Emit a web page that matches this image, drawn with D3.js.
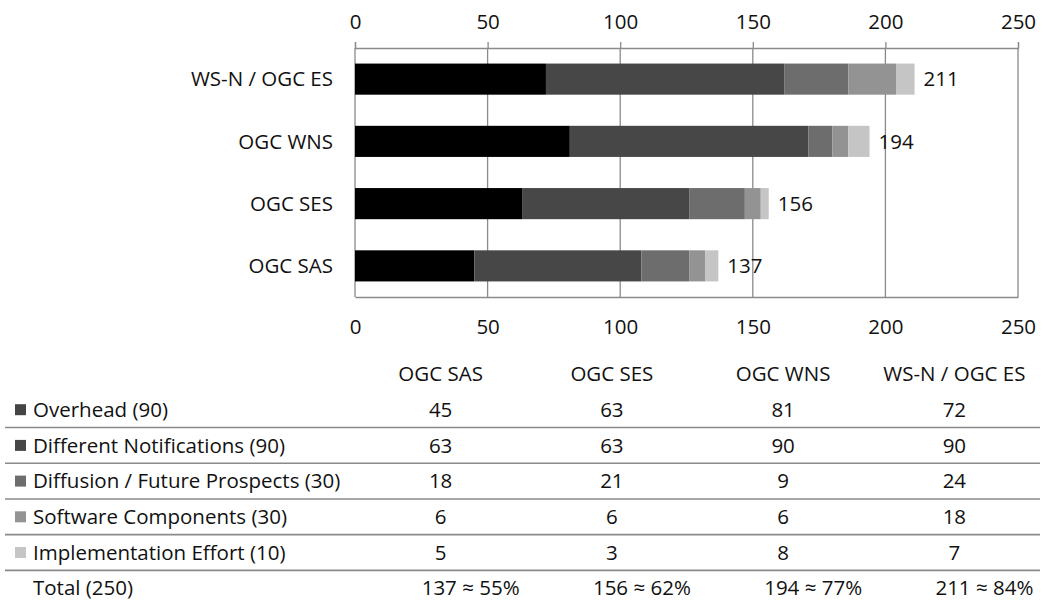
<!DOCTYPE html>
<html>
<head>
<meta charset="utf-8">
<script src="https://cdn.jsdelivr.net/npm/d3@7"></script>
<style>
  html, body { margin: 0; padding: 0; background: #fff; }
  svg text { font-family: "Open Sans", Lato, sans-serif; fill: #111; }
</style>
</head>
<body>
<svg id="chart" width="1043" height="605"></svg>
<script>
// Services in table column order
const services = ["OGC SAS", "OGC SES", "OGC WNS", "WS-N / OGC ES"];
// Bar order top to bottom
const barOrder = ["WS-N / OGC ES", "OGC WNS", "OGC SES", "OGC SAS"];

// Criteria (with their maximum points)
const criteria = [
  "Overhead (90)",
  "Different Notifications (90)",
  "Diffusion / Future Prospects (30)",
  "Software Components (30)",
  "Implementation Effort (10)"
];

// Scores per service, one array per criterion (same order as services)
const overhead       = [45, 63, 81, 72];
const notifications  = [63, 63, 90, 90];
const diffusion      = [18, 21, 9, 24];
const software       = [6, 6, 6, 18];
const implementation = [5, 3, 8, 7];

const totals      = [137, 156, 194, 211];
const totalLabels = ["137 ≈ 55%", "156 ≈ 62%", "194 ≈ 77%", "211 ≈ 84%"];
const totalRowLabel = "Total (250)";

const xTicks = [0, 50, 100, 150, 200, 250];

const barColors    = ["#000000", "#474747", "#6d6d6d", "#939393", "#c5c5c5"];
const swatchColors = ["#444444", "#474747", "#6d6d6d", "#939393", "#c5c5c5"];

const series = [overhead, notifications, diffusion, software, implementation];

const FS = 20.5;

// Build rows for stacking
const rows = services.map((s, i) => {
  const r = { service: s, total: totals[i] };
  criteria.forEach((c, k) => { r[c] = series[k][i]; });
  return r;
});

const svg = d3.select("#chart");

const x = d3.scaleLinear().domain([0, 250]).range([355, 1018]);
const y = d3.scaleBand().domain(barOrder).range([48, 297]).paddingInner(0.5).paddingOuter(0.25);

// Gridlines
svg.append("g")
  .selectAll("line")
  .data(xTicks)
  .join("line")
  .attr("x1", d => x(d)).attr("x2", d => x(d))
  .attr("y1", 48).attr("y2", 297)
  .attr("stroke", "#8a8a8a").attr("stroke-width", 1.3);

// Top axis
const topAxis = svg.append("g")
  .attr("transform", "translate(0,48)")
  .call(d3.axisTop(x).tickValues(xTicks).tickSize(6).tickPadding(13));
// Bottom axis
const bottomAxis = svg.append("g")
  .attr("transform", "translate(0,297)")
  .call(d3.axisBottom(x).tickValues(xTicks).tickSize(0).tickPadding(22));

[topAxis, bottomAxis].forEach(g => {
  g.select(".domain").attr("stroke", "#8a8a8a").attr("stroke-width", 1.3);
  g.selectAll(".tick line").attr("stroke", "#8a8a8a").attr("stroke-width", 1.3);
  g.selectAll(".tick text").attr("font-size", FS).attr("fill", "#111")
    .style("font-family", "'Open Sans', sans-serif");
});

// Stacked bars
const stack = d3.stack().keys(criteria);
const stacked = stack(rows);

svg.append("g")
  .selectAll("g")
  .data(stacked)
  .join("g")
  .attr("fill", (d, i) => barColors[i])
  .selectAll("rect")
  .data(d => d)
  .join("rect")
  .attr("x", d => x(d[0]))
  .attr("width", d => x(d[1]) - x(d[0]))
  .attr("y", d => y(d.data.service))
  .attr("height", y.bandwidth());

// Total labels at the bar ends
svg.append("g")
  .selectAll("text")
  .data(rows)
  .join("text")
  .attr("x", d => x(d.total) + 9)
  .attr("y", d => y(d.service) + y.bandwidth() / 2)
  .attr("dy", "0.35em")
  .attr("font-size", FS)
  .text(d => d.total);

// Category labels
svg.append("g")
  .selectAll("text")
  .data(barOrder)
  .join("text")
  .attr("x", 333)
  .attr("y", d => y(d) + y.bandwidth() / 2)
  .attr("dy", "0.35em")
  .attr("text-anchor", "end")
  .attr("font-size", FS)
  .text(d => d);

// Data table
const colX = d3.scaleBand().domain(services).range([355, 1040]);
const colMid = s => colX(s) + colX.bandwidth() / 2;
const rowY0 = 374, rowStep = 35.7;

const table = svg.append("g");
table.selectAll("text.head")
  .data(services)
  .join("text")
  .attr("class", "head")
  .attr("x", d => colMid(d))
  .attr("y", rowY0)
  .attr("dy", "0.35em")
  .attr("text-anchor", "middle")
  .attr("font-size", FS)
  .text(d => d);

// Separator lines under each criterion row
table.selectAll("line.sep")
  .data(criteria)
  .join("line")
  .attr("class", "sep")
  .attr("x1", 5).attr("x2", 1040)
  .attr("y1", (d, i) => rowY0 + rowStep * (i + 1.5))
  .attr("y2", (d, i) => rowY0 + rowStep * (i + 1.5))
  .attr("stroke", "#8a8a8a").attr("stroke-width", 1.6);

criteria.forEach((c, k) => {
  const yy = rowY0 + rowStep * (k + 1);
  table.append("rect")
    .attr("x", 15).attr("y", yy - 5.5)
    .attr("width", 11).attr("height", 11)
    .attr("fill", swatchColors[k]);
  table.append("text")
    .attr("x", 33).attr("y", yy).attr("dy", "0.35em")
    .attr("font-size", FS)
    .text(c);
  table.selectAll(null)
    .data(series[k])
    .join("text")
    .attr("x", (d, i) => colMid(services[i]))
    .attr("y", yy).attr("dy", "0.35em")
    .attr("text-anchor", "middle")
    .attr("font-size", FS)
    .text(d => d);
});

const totalY = rowY0 + rowStep * 6;
table.append("text")
  .attr("x", 33).attr("y", totalY).attr("dy", "0.35em")
  .attr("font-size", FS)
  .text(totalRowLabel);
table.selectAll("text.tot")
  .data(totalLabels)
  .join("text")
  .attr("class", "tot")
  .attr("x", (d, i) => colMid(services[i]) + 30)
  .attr("y", totalY).attr("dy", "0.35em")
  .attr("text-anchor", "middle")
  .attr("font-size", FS)
  .text(d => d);
</script>
</body>
</html>
